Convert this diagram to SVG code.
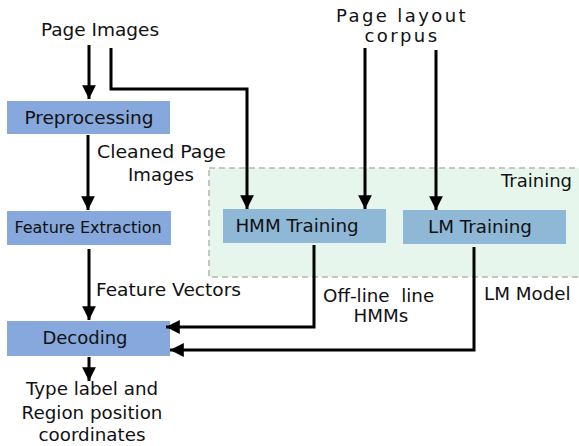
<svg xmlns="http://www.w3.org/2000/svg" width="579" height="446" viewBox="0 0 579 446">
  <defs>
    <marker id="arrow" viewBox="0 0 10 10" refX="10" refY="5" markerWidth="4.6" markerHeight="4.6" markerUnits="strokeWidth" orient="auto">
      <path d="M0,0 L10,5 L0,10 Z" fill="#000"/>
    </marker>
    <style>
      text { font-family: "DejaVu Sans", "Liberation Sans", sans-serif; fill: #111; }
      .lbl { font-size: 18px; }
      .mid { text-anchor: middle; }
      .proc { fill: #86a8dc; }
      .train { fill: #8fb8d6; }
      .edge { fill: none; stroke: #000; stroke-width: 3; marker-end: url(#arrow); }
    </style>
  </defs>
  <rect width="579" height="446" fill="#fff"/>

  <!-- training area -->
  <g id="training-area">
    <rect x="209" y="168" width="380" height="109" fill="#e7f6ec" stroke="#b5b5b5" stroke-width="1.5" stroke-dasharray="6,4"/>
    <text class="lbl" x="572" y="187" text-anchor="end">Training</text>
  </g>

  <!-- inputs -->
  <g id="page-images">
    <text class="lbl mid" x="100" y="36" style="font-size:18.5px">Page Images</text>
  </g>
  <g id="layout-corpus">
    <text class="lbl mid" x="402" y="22" letter-spacing="2.4">Page layout</text>
    <text class="lbl mid" x="402" y="42" letter-spacing="2.4">corpus</text>
  </g>

  <!-- nodes -->
  <g id="preprocessing">
    <rect class="proc" x="7" y="101" width="163" height="33"/>
    <text class="lbl mid" x="89" y="124" style="font-size:18.5px">Preprocessing</text>
  </g>
  <g id="feature-extraction">
    <rect class="proc" x="7" y="211" width="164" height="34"/>
    <text class="mid" x="88" y="233" style="font-size:16px">Feature Extraction</text>
  </g>
  <g id="decoding">
    <rect class="proc" x="7" y="321" width="163" height="35"/>
    <text class="lbl mid" x="85" y="344">Decoding</text>
  </g>
  <g id="hmm-training">
    <rect class="train" x="223" y="209" width="163" height="34"/>
    <text class="lbl mid" x="297" y="232" style="font-size:18.3px">HMM Training</text>
  </g>
  <g id="lm-training">
    <rect class="train" x="403" y="210" width="163" height="34"/>
    <text class="lbl mid" x="480" y="233" style="font-size:18.3px">LM Training</text>
  </g>
  <g id="output">
    <text class="lbl mid" x="92" y="395" style="font-size:18.3px">Type label and</text>
    <text class="lbl mid" x="92" y="419" style="font-size:18.3px">Region position</text>
    <text class="lbl mid" x="92" y="441" style="font-size:18.3px">coordinates</text>
  </g>

  <!-- connectors -->
  <g id="connectors">
    <path class="edge" d="M89,45 V99"/>
    <path class="edge" d="M111,48 V89 H247 V209"/>
    <path class="edge" d="M88,135 V210"/>
    <path class="edge" d="M89,249 V320"/>
    <path class="edge" d="M89,357 V381"/>
    <path class="edge" d="M365,48 V209"/>
    <path class="edge" d="M436,50 V210"/>
    <path class="edge" d="M314,245 V327 H166"/>
    <path class="edge" d="M474,247 V350 H170"/>
  </g>

  <!-- connector labels -->
  <g id="edge-labels">
    <text class="lbl" x="97" y="158" style="font-size:18.5px" textLength="129" lengthAdjust="spacingAndGlyphs">Cleaned Page</text>
    <text class="lbl" x="128" y="181" style="font-size:18.5px" textLength="66" lengthAdjust="spacingAndGlyphs">Images</text>
    <text class="lbl" x="96" y="296" style="font-size:18px" textLength="145" lengthAdjust="spacingAndGlyphs">Feature Vectors</text>
    <text class="lbl" x="323" y="302" style="white-space:pre;font-size:18.3px">Off-line  line</text>
    <text class="lbl mid" x="381" y="322" style="font-size:18.3px">HMMs</text>
    <text class="lbl" x="484" y="300" style="font-size:18.3px">LM Model</text>
  </g>
</svg>
